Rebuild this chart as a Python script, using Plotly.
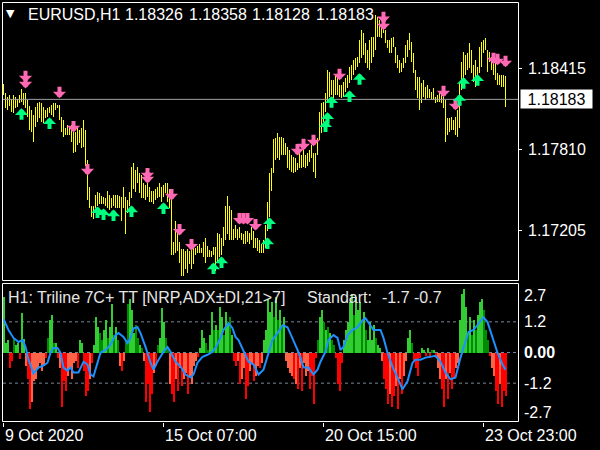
import plotly.graph_objects as go

# ---------------- data ----------------
bar_high = [
    1.18295, 1.18228, 1.18198, 1.18213, 1.18183, 1.18213, 1.18198, 1.18183, 1.18213, 1.18258,
    1.18228, 1.18228, 1.18176, 1.18131, 1.18101, 1.18063, 1.18123, 1.18153, 1.18161, 1.18153,
    1.18123, 1.18101, 1.18116, 1.18123, 1.18138, 1.18153, 1.18153, 1.18138, 1.18138, 1.18048,
    1.18026, 1.17966, 1.17989, 1.17974, 1.17989, 1.17966, 1.17936, 1.17966, 1.17951, 1.17966,
    1.18026, 1.17951, 1.17727, 1.17525, 1.17390, 1.17390, 1.17465, 1.17488, 1.17480, 1.17458,
    1.17451, 1.17443, 1.17502, 1.17465, 1.17443, 1.17465, 1.17465, 1.17465, 1.17458, 1.17451,
    1.17532, 1.17451, 1.17428, 1.17488, 1.17675, 1.17704, 1.17652, 1.17675, 1.17630, 1.17615,
    1.17562, 1.17540, 1.17555, 1.17525, 1.17502, 1.17502, 1.17517, 1.17525, 1.17555, 1.17525,
    1.17540, 1.17562, 1.17555, 1.17517, 1.17451, 1.17114, 1.17278, 1.17203, 1.17114, 1.17069,
    1.17069, 1.17054, 1.17069, 1.17054, 1.17106, 1.17091, 1.17076, 1.17091, 1.17106, 1.17076,
    1.17114, 1.17144, 1.17091, 1.17061, 1.17054, 1.17084, 1.17084, 1.17188, 1.17181, 1.17144,
    1.17233, 1.17390, 1.17458, 1.17390, 1.17353, 1.17218, 1.17241, 1.17218, 1.17226, 1.17188,
    1.17181, 1.17203, 1.17203, 1.17188, 1.17226, 1.17203, 1.17151, 1.17144, 1.17129, 1.17106,
    1.17129, 1.17241, 1.17413, 1.17630, 1.17667, 1.17884, 1.17891, 1.17929, 1.17899, 1.17899,
    1.17891, 1.17854, 1.17824, 1.17802, 1.17764, 1.17749, 1.17742, 1.17704, 1.17779, 1.17764,
    1.17802, 1.17764, 1.17779, 1.17802, 1.17839, 1.17779, 1.17779, 1.17891, 1.18086, 1.18153,
    1.18161, 1.18228, 1.18400, 1.18385, 1.18325, 1.18325, 1.18363, 1.18340, 1.18288, 1.18288,
    1.18310, 1.18340, 1.18363, 1.18422, 1.18437, 1.18475, 1.18490, 1.18497, 1.18624, 1.18699,
    1.18677, 1.18602, 1.18550, 1.18624, 1.18647, 1.18647, 1.18811, 1.18797, 1.18774, 1.18722,
    1.18797, 1.18699, 1.18624, 1.18624, 1.18639, 1.18647, 1.18572, 1.18512, 1.18475, 1.18452,
    1.18490, 1.18587, 1.18624, 1.18677, 1.18610, 1.18527, 1.18400, 1.18348, 1.18348, 1.18303,
    1.18325, 1.18273, 1.18288, 1.18258, 1.18235, 1.18265, 1.18198, 1.18213, 1.18228, 1.18235,
    1.18198, 1.18176, 1.18041, 1.18041, 1.18048, 1.18026, 1.18048, 1.18101, 1.18303, 1.18460,
    1.18535, 1.18512, 1.18527, 1.18602, 1.18550, 1.18437, 1.18475, 1.18422, 1.18572, 1.18610,
    1.18624, 1.18639, 1.18550, 1.18535, 1.18497, 1.18475, 1.18452, 1.18378, 1.18363, 1.18363,
    1.18363, 1.18358,
]
bar_low = [
    1.18213, 1.18116, 1.18101, 1.18131, 1.18086, 1.18078, 1.18116, 1.18123, 1.18153, 1.18161,
    1.18138, 1.18116, 1.18048, 1.17951, 1.17936, 1.17862, 1.17974, 1.18011, 1.18041, 1.18011,
    1.18004, 1.18041, 1.18048, 1.18078, 1.18063, 1.18048, 1.18101, 1.18116, 1.18026, 1.17936,
    1.17899, 1.17914, 1.17914, 1.17914, 1.17862, 1.17779, 1.17787, 1.17839, 1.17854, 1.17817,
    1.17824, 1.17689, 1.17428, 1.17368, 1.17301, 1.17293, 1.17368, 1.17390, 1.17405, 1.17405,
    1.17405, 1.17390, 1.17375, 1.17353, 1.17368, 1.17390, 1.17375, 1.17375, 1.17368, 1.17278,
    1.17375, 1.17181, 1.17331, 1.17390, 1.17443, 1.17517, 1.17488, 1.17555, 1.17480, 1.17443,
    1.17443, 1.17428, 1.17451, 1.17413, 1.17413, 1.17405, 1.17428, 1.17443, 1.17451, 1.17413,
    1.17451, 1.17480, 1.17413, 1.17368, 1.17017, 1.17017, 1.17032, 1.17054, 1.16964, 1.16867,
    1.16867, 1.16919, 1.16889, 1.16957, 1.16919, 1.16957, 1.17017, 1.17039, 1.17039, 1.17032,
    1.17002, 1.16964, 1.17002, 1.17009, 1.17002, 1.17017, 1.16904, 1.16964, 1.17002, 1.17017,
    1.17091, 1.17129, 1.17181, 1.17129, 1.17129, 1.17129, 1.17144, 1.17129, 1.17144, 1.17129,
    1.17106, 1.17106, 1.17114, 1.17106, 1.17129, 1.17076, 1.17076, 1.17054, 1.17032, 1.17032,
    1.17032, 1.17076, 1.17203, 1.17301, 1.17502, 1.17630, 1.17727, 1.17742, 1.17727, 1.17764,
    1.17764, 1.17764, 1.17667, 1.17652, 1.17637, 1.17630, 1.17637, 1.17652, 1.17667, 1.17667,
    1.17675, 1.17667, 1.17689, 1.17712, 1.17742, 1.17637, 1.17592, 1.17764, 1.17876, 1.17929,
    1.18011, 1.18086, 1.18161, 1.18198, 1.18213, 1.18191, 1.18213, 1.18213, 1.18198, 1.18191,
    1.18198, 1.18235, 1.18265, 1.18303, 1.18325, 1.18363, 1.18400, 1.18422, 1.18452, 1.18490,
    1.18512, 1.18452, 1.18415, 1.18400, 1.18452, 1.18497, 1.18550, 1.18647, 1.18647, 1.18639,
    1.18677, 1.18602, 1.18565, 1.18527, 1.18527, 1.18572, 1.18452, 1.18415, 1.18378, 1.18385,
    1.18415, 1.18452, 1.18497, 1.18550, 1.18460, 1.18378, 1.18250, 1.18191, 1.18101, 1.18153,
    1.18198, 1.18176, 1.18191, 1.18191, 1.18176, 1.18176, 1.18153, 1.18161, 1.18161, 1.18153,
    1.18116, 1.17862, 1.17914, 1.17936, 1.17951, 1.17951, 1.17914, 1.17899, 1.17966, 1.18250,
    1.18303, 1.18363, 1.18400, 1.18415, 1.18378, 1.18310, 1.18273, 1.18325, 1.18378, 1.18422,
    1.18527, 1.18550, 1.18385, 1.18460, 1.18400, 1.18363, 1.18325, 1.18288, 1.18288, 1.18273,
    1.18273, 1.18128,
]
symbol = "EURUSD,H1"
last_ohlc = [1.18326, 1.18358, 1.18128, 1.18183]

sell_bar = [11, 11, 28, 35, 42, 72, 72, 84, 88, 94, 118, 120, 122, 126, 147, 150, 155,
            168, 190, 190, 220, 226, 245, 247, 251]
sell_price = [1.18310, 1.18265, 1.18191, 1.17936, 1.17615, 1.17585, 1.17555, 1.17428,
              1.17166, 1.17054, 1.17248, 1.17248, 1.17248, 1.17203, 1.17764, 1.17802,
              1.17832, 1.18325, 1.18752, 1.18699, 1.18198, 1.18101, 1.18445, 1.18437,
              1.18422]
buy_bar = [9, 23, 47, 50, 55, 64, 80, 105, 109, 132, 133, 161, 162, 164, 173, 178,
           228, 230, 237]
buy_price = [1.18116, 1.18048, 1.17383, 1.17368, 1.17360, 1.17390, 1.17413, 1.16964,
             1.17009, 1.17151, 1.17301, 1.18026, 1.18086, 1.18206, 1.18250, 1.18378,
             1.18221, 1.18348, 1.18370]

osc_hist = [
    2.2, 0.4, 0.5, -0.6, -0.3, 0.6, 0.3, 0.4, -0.25, 1.55,
    0.55, -0.5, -1.0, -2.2, -1.9, -1.1, -1.0, -0.6, -0.4, -0.7,
    -0.45, -0.2, 0.6, 1.3, 1.5, 0.4, 0.4, -0.2, -0.6, -2.1,
    -1.1, -1.5, -0.9, -0.6, -1.0, -0.4, -0.3, -0.6, 0.5, 0.4,
    -0.7, -1.7, -1.5, -1.0, -0.4, 0.3, 1.4, 1.0, 0.8, 0.5,
    0.9, 1.3, 0.6, 1.0, 1.9, 0.7, 1.0, 0.5, -0.5, -0.7,
    -0.3, 0.5, 1.9, 2.1, 1.7, 0.8, 1.1, 0.6, 0.3, 0.2,
    -0.3, -1.9, -1.2, -2.3, -1.6, -0.8, -0.5, 0.3, 0.6, 1.75,
    1.2, 0.6, 0.2, -1.2, -1.6, -1.9, -1.0, -1.5, -0.6, -1.3,
    -1.0, -0.8, -1.6, -0.9, -1.2, -0.5, -0.3, -0.15, 0.2, 0.9,
    0.6, 0.4, 0.1, 0.7, 1.6, 0.9, 1.1, 0.9, 1.8, 1.4,
    0.7, 1.6, 1.1, 1.4, 0.7, -0.3, -0.5, -0.3, -1.2, -1.0,
    -0.6, -1.8, -1.3, -0.7, -0.4, -1.1, -0.9, -0.5, -0.6, -0.4,
    0.5, 0.9, 2.1, 1.6, 2.0, 1.4, 2.2, 1.3, 1.7, 1.0,
    1.4, -0.3, -0.6, -0.8, -0.9, -1.0, -1.2, -1.4, -0.6, -1.5,
    -0.4, -0.9, -0.7, -1.4, -0.9, -2.0, -0.2, 0.5, 1.4, 1.7,
    1.2, 0.9, 1.0, 0.8, 0.5, 0.3, -0.2, -1.2, -1.5, -0.4,
    0.5, 0.9, 1.2, 2.0, 2.3, 1.5, 2.2, 1.7, 2.0, 1.2,
    1.6, 0.9, 0.5, 1.2, 0.5, 1.1, 0.6, 0.3, 0.2, -0.3,
    -1.0, -1.4, -2.0, -1.6, -2.1, -1.7, -1.3, -2.2, -1.0, -1.6,
    -0.9, -0.3, 0.6, 0.9, 0.4, -0.3, -0.6, -0.9, -0.2, 0.2,
    0.1, -0.1, 0.2, -0.2, 0.1, 0.1, -0.2, -0.6, -1.0, -1.4,
    -2.1, -1.0, -1.8, -0.8, -1.4, -1.0, -0.6, -0.4, 1.3, 2.3,
    2.5, 1.8, 0.8, 1.4, 0.7, 1.3, 0.9, 1.5, 2.0, 2.1,
    1.7, 0.9, 0.5, -0.1, -0.6, -0.9, -1.5, -2.0, -1.2, -2.1,
    -1.5, -1.7,
]
# 1 = strong tone (lime / red), 0 = soft tone (dark green / tomato)
osc_tone = [
    1, 1, 1, 1, 1, 0, 1, 1, 1, 1,
    1, 0, 1, 1, 0, 0, 0, 0, 0, 0,
    0, 1, 0, 1, 1, 0, 1, 1, 0, 1,
    1, 1, 0, 0, 0, 0, 0, 1, 1, 1,
    1, 1, 1, 0, 1, 1, 1, 1, 0, 0,
    1, 1, 0, 1, 1, 0, 1, 0, 0, 1,
    0, 0, 0, 1, 1, 1, 0, 0, 1, 0,
    0, 1, 1, 1, 1, 0, 1, 0, 1, 1,
    1, 0, 0, 0, 1, 1, 0, 1, 0, 1,
    0, 0, 1, 0, 0, 0, 0, 1, 1, 1,
    1, 0, 0, 1, 1, 0, 1, 0, 1, 1,
    0, 1, 1, 0, 1, 1, 1, 0, 1, 0,
    0, 1, 1, 0, 0, 1, 0, 0, 1, 0,
    1, 1, 1, 1, 1, 0, 1, 0, 1, 0,
    1, 0, 0, 0, 0, 1, 0, 1, 0, 1,
    0, 0, 0, 1, 1, 1, 1, 0, 1, 1,
    0, 1, 0, 1, 0, 0, 1, 1, 1, 1,
    1, 1, 1, 1, 1, 0, 1, 1, 1, 0,
    1, 0, 1, 1, 1, 1, 0, 1, 1, 0,
    1, 1, 1, 0, 1, 1, 0, 1, 0, 1,
    0, 0, 1, 1, 0, 1, 1, 1, 1, 1,
    1, 1, 1, 1, 0, 1, 1, 0, 0, 1,
    1, 0, 1, 0, 1, 1, 0, 0, 1, 1,
    1, 1, 0, 1, 0, 1, 0, 1, 1, 1,
    0, 0, 0, 1, 0, 0, 1, 1, 0, 1,
    1, 1,
]
osc_line_bar = [
    0, 2.5, 5, 7.5, 9.5, 11, 12.5, 15, 17.5, 20, 22, 23.5, 25, 27, 28.5, 30, 32, 33.5,
    35, 37.5, 40, 42, 43.5, 45, 47, 48.5, 51, 53.5, 56, 57.5, 60, 62, 63.5, 65, 67,
    68.5, 71, 73.5, 75, 77.5, 80, 82, 83.5, 86, 88.5, 91, 93.5, 95, 97, 99.5, 102,
    104.5, 106, 108.5, 110, 112.5, 114.5, 116, 117.5, 120, 122.5, 125, 127.5, 130,
    132, 134.5, 137, 139.5, 142, 144.5, 147, 148.5, 150, 152.5, 155, 157, 158.5, 161,
    162.5, 165, 167, 168.5, 170, 172, 174.5, 177, 179.5, 181, 183.5, 185, 188.5, 190,
    192, 194.5, 197, 199.5, 202, 204.5, 206, 208.5, 211, 213.5, 216, 218.5, 221,
    223.5, 226, 228.5, 231, 232.5, 235, 237.5, 240, 242, 244.5, 247, 249.5, 251,
]
osc_line_val = [
    1.30, 0.88, 0.57, 0.41, 0.49, 0.22, -0.28, -0.82, -0.59, -0.51, -0.40, -0.01, 0.18,
    0.18, -0.01, -0.59, -0.71, -0.59, -0.78, -0.78, -0.36, -0.47, -0.86, -0.94, -0.40,
    -0.01, 0.10, 0.30, 0.68, 0.76, 0.61, 0.37, 0.57, 0.95, 0.99, 0.76, 0.22, -0.40,
    -0.67, -0.28, 0.03, 0.22, 0.03, -0.36, -0.55, -0.86, -0.98, -0.86, -0.40, -0.17,
    -0.09, 0.03, 0.18, 0.57, 0.88, 1.15, 0.95, 0.61, 0.49, 0.03, -0.36, -0.47, -0.86,
    -0.67, -0.17, 0.49, 0.76, 1.07, 0.99, 0.57, 0.10, -0.20, -0.59, -0.59, -0.86,
    -0.67, -0.36, 0.03, 0.49, 0.68, 0.57, 0.10, 0.22, 0.68, 0.88, 0.99, 1.26, 1.34,
    1.07, 0.88, 0.88, 0.57, -0.01, -0.55, -0.98, -1.44, -1.13, -0.40, -0.28, -0.28,
    -0.20, -0.17, -0.13, -0.36, -0.78, -1.05, -0.98, -0.20, 0.49, 0.80, 0.88, 1.15,
    1.38, 1.19, 0.57, -0.01, -0.47, -0.67,
]
osc_title = "H1: Triline 7C+ TT [NRP,ADX\u00b1DI,21>7]"
osc_mode = "Standart:"
osc_current = [-1.7, -0.7]
osc_levels = [1.2, 0.0, -1.2]
osc_ticks = [2.7, 1.2, 0.0, -1.2, -2.7]
osc_tick_text = ["2.7", "1.2", "<b>0.00</b>", "-1.2", "-2.7"]
price_ticks = [1.17205, 1.17810, 1.18415]
time_tick_bar = [0, 80, 160, 240]
time_tick_text = ["9 Oct 2020", "15 Oct 07:00", "20 Oct 15:00", "23 Oct 23:00"]

# ---------------- layout helpers ----------------
W, H = 600, 450
FONT = "Liberation Sans"
def fx(p):
    return p / W
def fy(p):
    return 1 - p / H

PLOT_L, PLOT_R = 3, 518
MAIN_T, MAIN_B = 3, 280
OSC_T, OSC_B = 283.5, 421.5
X_RANGE = [-0.25, -0.25 + (PLOT_R - PLOT_L) / 2]
PX_PER_PRICE = 81 / 0.00605
MAIN_RANGE = [1.18415 - (MAIN_B - 68.3) / PX_PER_PRICE, 1.18415 + (68.3 - MAIN_T) / PX_PER_PRICE]
TITLE_X = [26, 123, 187, 250, 314]

GREEN_A, GREEN_B = "#32cd32", "#008c00"
RED_A, RED_B = "#ff0000", "#ff6347"

fig = go.Figure()

# price bars (high-low vertical lines)
fig.add_trace(go.Bar(x=list(range(len(bar_high))),
                     y=[h - l for h, l in zip(bar_high, bar_low)], base=bar_low, width=0.5,
                     marker=dict(color="#ffff00", line=dict(width=0)),
                     xaxis="x", yaxis="y", hoverinfo="skip", showlegend=False))

# oscillator histogram
cols = []
for v, t in zip(osc_hist, osc_tone):
    if v >= 0:
        cols.append(GREEN_A if t else GREEN_B)
    else:
        cols.append(RED_A if t else RED_B)
fig.add_trace(go.Bar(x=list(range(len(osc_hist))), y=osc_hist, width=1,
                     marker=dict(color=cols, line=dict(width=0)),
                     xaxis="x", yaxis="y2", showlegend=False, hoverinfo="skip"))
fig.add_trace(go.Scatter(x=osc_line_bar, y=osc_line_val, mode="lines",
                         line=dict(color="#1e90ff", width=2),
                         xaxis="x", yaxis="y2", showlegend=False, hoverinfo="skip"))

shapes = []
shapes.append(dict(type="rect", xref="paper", yref="paper", x0=fx(2.5), x1=fx(518.5),
                   y0=fy(280.5), y1=fy(2.5), line=dict(color="white", width=1), layer="above"))
shapes.append(dict(type="rect", xref="paper", yref="paper", x0=fx(2.5), x1=fx(518.5),
                   y0=fy(OSC_B), y1=fy(OSC_T), line=dict(color="white", width=1), layer="above"))
shapes.append(dict(type="line", xref="paper", yref="y", x0=fx(PLOT_L), x1=fx(PLOT_R),
                   y0=last_ohlc[3], y1=last_ohlc[3], line=dict(color="#a0a0a0", width=1),
                   layer="above"))
for lv in osc_levels:
    shapes.append(dict(type="line", xref="paper", yref="y2", x0=fx(PLOT_L), x1=fx(PLOT_R),
                       y0=lv, y1=lv, line=dict(color="#7a8799", width=1, dash="3px,3px"),
                       layer="below"))

ann = []
for b, p in zip(sell_bar, sell_price):
    ann.append(dict(x=b, y=p, xref="x", yref="y", text="", showarrow=True,
                    ax=0, ay=-13, arrowhead=1, arrowwidth=4, arrowsize=0.55,
                    arrowcolor="#ff69b4", standoff=0))
for b, p in zip(buy_bar, buy_price):
    ann.append(dict(x=b, y=p, xref="x", yref="y", text="", showarrow=True,
                    ax=0, ay=13, arrowhead=1, arrowwidth=4, arrowsize=0.55,
                    arrowcolor="#00ff7f", standoff=0))

# title
ann.append(dict(x=fx(10.5), y=fy(14), xref="paper", yref="paper", text="\u25bc", showarrow=False,
                font=dict(family="DejaVu Sans", size=11, color="white"), xanchor="center", yanchor="middle"))
title_parts = [symbol] + [f"{v:.5f}" for v in last_ohlc]
for tx, part in zip(TITLE_X, title_parts):
    ann.append(dict(x=fx(tx), y=fy(14.5), xref="paper", yref="paper", text=part, showarrow=False,
                    font=dict(family=FONT, size=16, color="white"), xanchor="left", yanchor="middle"))
# oscillator title
ann.append(dict(x=fx(6), y=fy(297.5), xref="paper", yref="paper", text=osc_title, showarrow=False,
                font=dict(family=FONT, size=16, color="#e6e6e6"), xanchor="left", yanchor="middle"))
ann.append(dict(x=fx(305), y=fy(297.5), xref="paper", yref="paper", text=osc_mode, showarrow=False,
                font=dict(family=FONT, size=16, color="#e6e6e6"), xanchor="left", yanchor="middle"))
ann.append(dict(x=fx(380), y=fy(297.5), xref="paper", yref="paper",
                text=f"{osc_current[0]:.1f} {osc_current[1]:.1f}", showarrow=False,
                font=dict(family=FONT, size=16, color="#e6e6e6"), xanchor="left", yanchor="middle"))
# price labels
for p in price_ticks:
    ann.append(dict(x=fx(526), y=p, xref="paper", yref="y", text=f"{p:.5f}", showarrow=False,
                    font=dict(family=FONT, size=16, color="white"), xanchor="left", yanchor="middle"))
ann.append(dict(x=fx(520), y=last_ohlc[3], xref="paper", yref="y", text=f"{last_ohlc[3]:.5f}",
                showarrow=False, font=dict(family=FONT, size=16, color="black"),
                xanchor="left", yanchor="middle", bgcolor="white", width=67, height=14,
                borderpad=2))
# oscillator labels
osc_shift = {2.7: -12, -2.7: 9}
for v, t in zip(osc_ticks, osc_tick_text):
    ann.append(dict(x=fx(522), y=v, xref="paper", yref="y2", text=t, showarrow=False,
                    yshift=osc_shift.get(v, 0),
                    font=dict(family=FONT, size=16, color="white"), xanchor="left", yanchor="middle"))
# time labels
for b, t in zip(time_tick_bar, time_tick_text):
    ann.append(dict(x=b, y=fy(435), xref="x", yref="paper", text=t, showarrow=False,
                    font=dict(family=FONT, size=16, color="white"), xanchor="left", yanchor="middle",
                    xshift=-1))

fig.update_layout(
    width=W, height=H, margin=dict(l=0, r=0, t=0, b=0),
    paper_bgcolor="black", plot_bgcolor="black",
    showlegend=False, bargap=0,
    font=dict(family=FONT, size=16, color="white"),
    xaxis=dict(domain=[fx(PLOT_L), fx(PLOT_R)], range=X_RANGE, anchor="y2",
               showgrid=False, zeroline=False, showline=False,
               tickmode="array", tickvals=time_tick_bar, ticks="outside", ticklen=4,
               tickcolor="white", tickwidth=1, showticklabels=False),
    yaxis=dict(domain=[fy(MAIN_B), fy(MAIN_T)], range=MAIN_RANGE, anchor="x", side="right",
               showgrid=False, zeroline=False, showline=False,
               tickmode="array", tickvals=price_ticks, ticks="outside", ticklen=3,
               tickcolor="white", showticklabels=False),
    yaxis2=dict(domain=[fy(OSC_B), fy(OSC_T)], range=[-2.7, 2.7], anchor="x",
                showgrid=False, zeroline=False, showline=False, showticklabels=False,
                ticks=""),
    shapes=shapes, annotations=ann,
)

fig.write_html("out.html", config={"displayModeBar": False, "staticPlot": False},
               post_script="document.body.style.margin='0px';")
